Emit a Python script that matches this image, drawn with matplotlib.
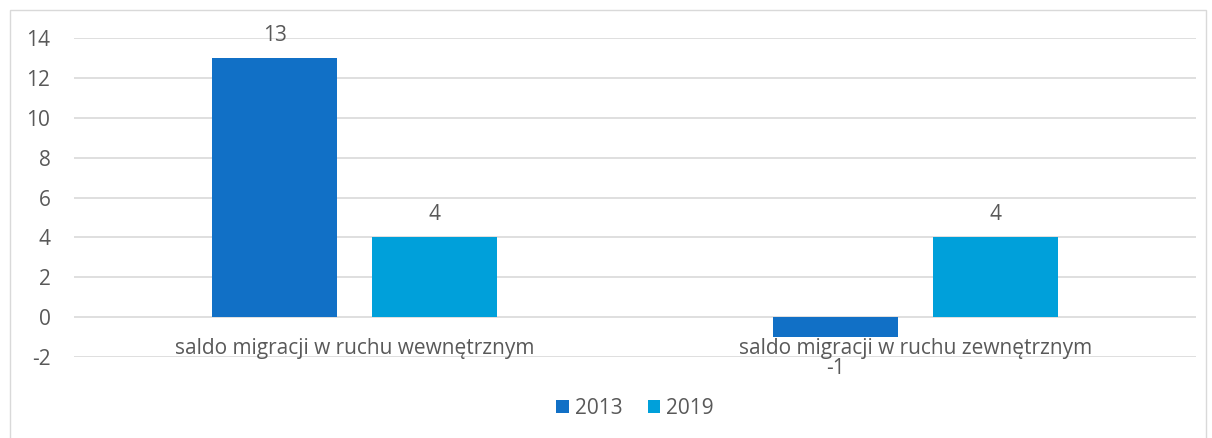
import numpy as np
import matplotlib.pyplot as plt
from matplotlib.patches import Rectangle

categories = ["saldo migracji w ruchu wewnętrznym", "saldo migracji w ruchu zewnętrznym"]
years = ["2013", "2019"]
values_2013 = [13, -1]
values_2019 = [4, 4]
colors = ["#1170C6", "#00A0DA"]

plt.rcParams['font.family'] = ['Open Sans', 'DejaVu Sans']
plt.rcParams['axes.unicode_minus'] = False
txt = "#595959"
fs = 15

fig = plt.figure(figsize=(12.12, 4.38), dpi=100)
# outer frame
fig.patches.append(Rectangle((10 / 1212, -0.01), 1196 / 1212, 1 - 10 / 438 + 0.01,
                             transform=fig.transFigure, fill=False,
                             edgecolor="#D9D9D9", lw=1))
ax = fig.add_axes([74 / 1212, 1 - 357 / 438, 1122 / 1212, (357 - 38) / 438])

x = np.arange(len(categories))
w = 0.223
off = 0.142
series = [values_2013, values_2019]
for i, vals in enumerate(series):
    xs = x + (off if i else -off)
    ax.bar(xs, vals, w, color=colors[i], label=years[i], zorder=3)
    for xx, v in zip(xs, vals):
        if v >= 0:
            ax.text(xx, v + 0.6, str(v), ha="center", va="bottom", fontsize=fs, color=txt)
        else:
            ax.text(xx, v - 1.05, str(v), ha="center", va="top", fontsize=fs,
                    color=txt, zorder=5, clip_on=False)

ax.set_xlim(-0.5, 1.5)
ax.set_ylim(-2, 14)
ax.set_yticks(range(-2, 15, 2))
ax.grid(axis="y", color="#D9D9D9", lw=1.2, zorder=0)
ax.tick_params(axis="y", length=0, labelsize=fs, labelcolor=txt, pad=17)
ax.set_xticks([])
for s in ax.spines.values():
    s.set_visible(False)

# category labels sit on the -2 gridline area, like the original
for xx, c in zip(x, categories):
    ax.text(xx, -1.55, c, ha="center", va="center", fontsize=fs, color=txt, zorder=4)

ax.legend(loc="center", bbox_to_anchor=(0.5, -0.16), ncol=2, frameon=False,
          fontsize=fs, labelcolor=txt, handlelength=0.6, handleheight=0.6,
          handletextpad=0.3, columnspacing=1.2)

fig.savefig("out.png", dpi=100)
